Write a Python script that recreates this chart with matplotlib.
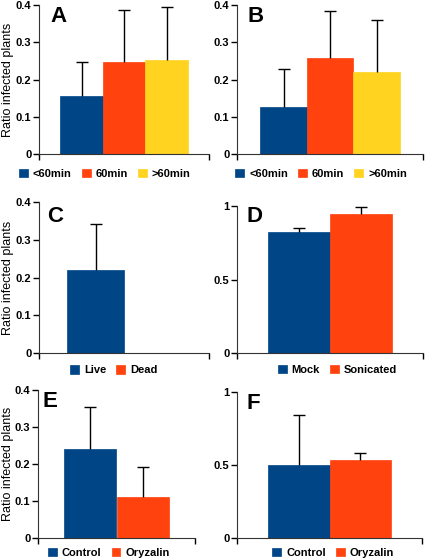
import matplotlib.pyplot as plt

blue = '#004586'
red = '#ff420e'
yellow = '#ffd320'

# panel data: (labels, means, upper errors)
a_labels = ['<60min', '60min', '>60min']
a_means = [0.156, 0.248, 0.252]
a_errs = [0.091, 0.139, 0.142]

b_labels = ['<60min', '60min', '>60min']
b_means = [0.127, 0.258, 0.219]
b_errs = [0.100, 0.126, 0.140]

c_labels = ['Live', 'Dead']
c_means = [0.220, 0.0]
c_errs = [0.121, 0.0]

d_labels = ['Mock', 'Sonicated']
d_means = [0.820, 0.944]
d_errs = [0.027, 0.049]

e_labels = ['Control', 'Oryzalin']
e_means = [0.241, 0.112]
e_errs = [0.114, 0.079]

f_labels = ['Control', 'Oryzalin']
f_means = [0.498, 0.537]
f_errs = [0.342, 0.045]

plt.rcParams['font.family'] = ['Liberation Sans', 'DejaVu Sans']

fig = plt.figure(figsize=(4.25, 5.6), dpi=100)

W, H = 425.0, 560.0
def box(l, t, r, b):
    return [l / W, 1 - b / H, (r - l) / W, (b - t) / H]

panels = [
    ('A', box(39, 5, 209, 154), a_labels, a_means, a_errs, 0.4, True, (0.065, 0.99), (0.388, -0.134)),
    ('B', box(237, 5, 423, 154), b_labels, b_means, b_errs, 0.4, False, (0.055, 0.99), (0.452, -0.134)),
    ('C', box(39, 202, 209, 353), c_labels, c_means, c_errs, 0.4, True, (0.05, 0.975), (0.44, -0.113)),
    ('D', box(237, 206, 423, 353), d_labels, d_means, d_errs, 1.0, False, (0.05, 1.0), (0.54, -0.116)),
    ('E', box(38, 390, 195, 538), e_labels, e_means, e_errs, 0.4, True, (0.03, 0.99), (0.452, -0.101)),
    ('F', box(237, 392, 422, 538), f_labels, f_means, f_errs, 1.0, False, (0.05, 0.99), (0.519, -0.103)),
]

colors = [blue, red, yellow]

for letter, pos, labels, means, errs, ymax, ylab, lpos, legpos in panels:
    ax = fig.add_axes(pos)
    n = len(labels)
    xs = list(range(n))
    for i in xs:
        ax.bar(i, means[i], width=1.0, color=colors[i],
               edgecolor=colors[i], linewidth=0.5, label=labels[i])
        if errs[i] > 0:
            eb = ax.errorbar(i, means[i], yerr=[[0], [errs[i]]], fmt='none',
                             ecolor='black', elinewidth=1, capsize=4, capthick=1)
            eb[1][0].set_visible(False)  # hide cap sitting on the bar top
    ax.set_xlim(-1, n)
    ax.set_ylim(0, ymax)
    if ymax == 1.0:
        ax.set_yticks([0, 0.5, 1])
        ax.set_yticklabels(['0', '0.5', '1'])
    else:
        ax.set_yticks([0, 0.1, 0.2, 0.3, 0.4])
        ax.set_yticklabels(['0', '0.1', '0.2', '0.3', '0.4'])
    ax.set_xticks([-1, n])
    ax.set_xticklabels(['', ''])
    ax.tick_params(axis='y', direction='out', length=4, width=1,
                   labelsize=8, pad=1.5)
    ax.tick_params(axis='x', direction='out', length=4, width=1)
    for t in ax.get_yticklabels():
        t.set_fontweight('bold')
    ax.spines['top'].set_visible(False)
    ax.spines['right'].set_visible(False)
    ax.spines['left'].set_color('#333333')
    ax.spines['bottom'].set_color('#333333')
    if ylab:
        ax.set_ylabel('Ratio infected plants', fontsize=9)
        left_px = pos[0] * W
        ax.yaxis.set_label_coords((14 - left_px) / (pos[2] * W), 0.5)
    ax.text(lpos[0], lpos[1], letter, transform=ax.transAxes, fontsize=16,
            fontweight='bold', va='top', ha='left')
    ax.legend(loc='center', bbox_to_anchor=legpos, ncol=n,
              frameon=False, handlelength=0.8, handleheight=0.8,
              handletextpad=0.45, columnspacing=0.9, borderaxespad=0,
              borderpad=0, prop={'weight': 'bold', 'size': 8})

fig.savefig('out.png', dpi=100)
